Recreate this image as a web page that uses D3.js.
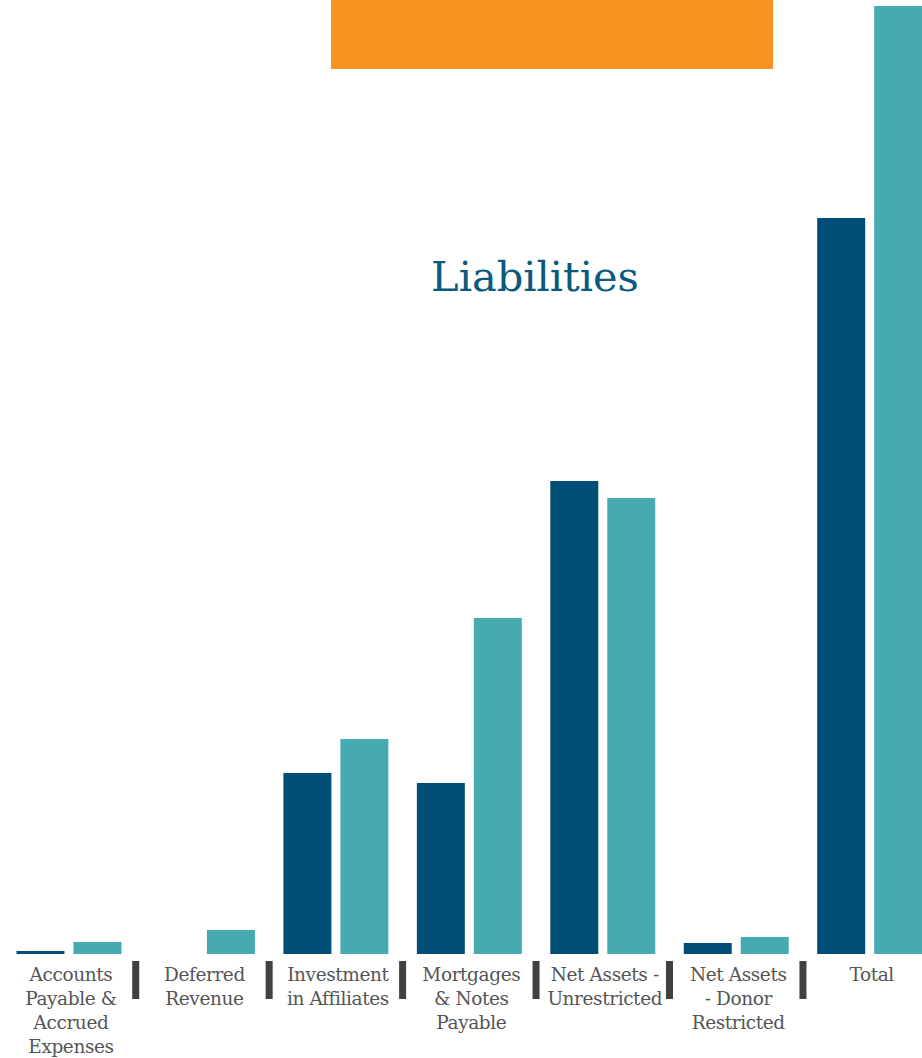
<!DOCTYPE html>
<html><head><meta charset="utf-8">
<script src="https://cdn.jsdelivr.net/npm/d3@7"></script>
<style>html,body{margin:0;padding:0;background:#fff;overflow:hidden}</style>
</head><body>
<svg id="chart" width="922" height="1058"></svg>
<script>
const categories = [
  ["Accounts","Payable &","Accrued","Expenses"],
  ["Deferred","Revenue"],
  ["Investment","in Affiliates"],
  ["Mortgages","& Notes","Payable"],
  ["Net Assets -","Unrestricted"],
  ["Net Assets","- Donor","Restricted"],
  ["Total"]
];
const seriesNames = ["prior","current"];
const priorValues   = [0.15, 0, 9.05, 8.55, 23.65, 0.55, 36.8];
const currentValues = [0.6, 1.2, 10.75, 16.8, 22.8, 0.85, 47.4];
const title = "Liabilities";

const svg = d3.select("#chart");
const baseY = 954;
const keys = categories.map((c,i)=>"c"+i);

const stepW = 133.45;
const x0 = 16.5 - 0.10675*stepW;
const x = d3.scaleBand().domain(keys).range([x0, x0 + 7*stepW]).paddingInner(0.2135).paddingOuter(0.10675);
const xs = d3.scaleBand().domain(seriesNames).range([0, x.bandwidth()]).paddingInner(0.158);
const y = d3.scaleLinear().domain([0, 50]).range([baseY, baseY - 1000]);
const colors = {prior:"#004d76", current:"#45abb1"};

// orange header block
svg.append("rect").attr("x",331).attr("y",0).attr("width",442).attr("height",69).attr("fill","#f7931e");

const data = keys.map((k,i)=>({key:k, values:[{s:"prior",v:priorValues[i]},{s:"current",v:currentValues[i]}]}));

const g = svg.append("g");
const groups = g.selectAll("g.grp").data(data).join("g").attr("class","grp")
  .attr("transform", d=>`translate(${x(d.key)},0)`);
groups.selectAll("rect").data(d=>d.values.filter(v=>v.v>0)).join("rect")
  .attr("x", d=>xs(d.s)).attr("width", xs.bandwidth())
  .attr("y", d=>y(d.v)).attr("height", d=>baseY - y(d.v))
  .attr("fill", d=>colors[d.s]);

// title
svg.append("text").attr("x",535).attr("y",291).attr("text-anchor","middle")
  .attr("font-family","'DejaVu Serif', serif").attr("font-size",41.5).attr("fill","#0a5a80")
  .text(title);

// labels
const font = "'DejaVu Serif', serif";
data.forEach((d,i)=>{
  const cx = x(d.key) + x.bandwidth()/2 + 2;
  const t = svg.append("text").attr("text-anchor","middle").attr("font-family",font)
    .attr("font-size",18.5).attr("fill","#555555").attr("letter-spacing","-0.4");
  categories[i].forEach((line,j)=>{
    t.append("tspan").attr("x",cx).attr("y",981 + j*24).text(line);
  });
});

// separators
const step = x.step();
keys.slice(0,-1).forEach(k=>{
  const sx = x(k) + x.bandwidth() + (step - x.bandwidth())/2;
  svg.append("rect").attr("x", sx-3.5).attr("y",961).attr("width",7).attr("height",38).attr("fill","#414042");
});
</script>
</body></html>
